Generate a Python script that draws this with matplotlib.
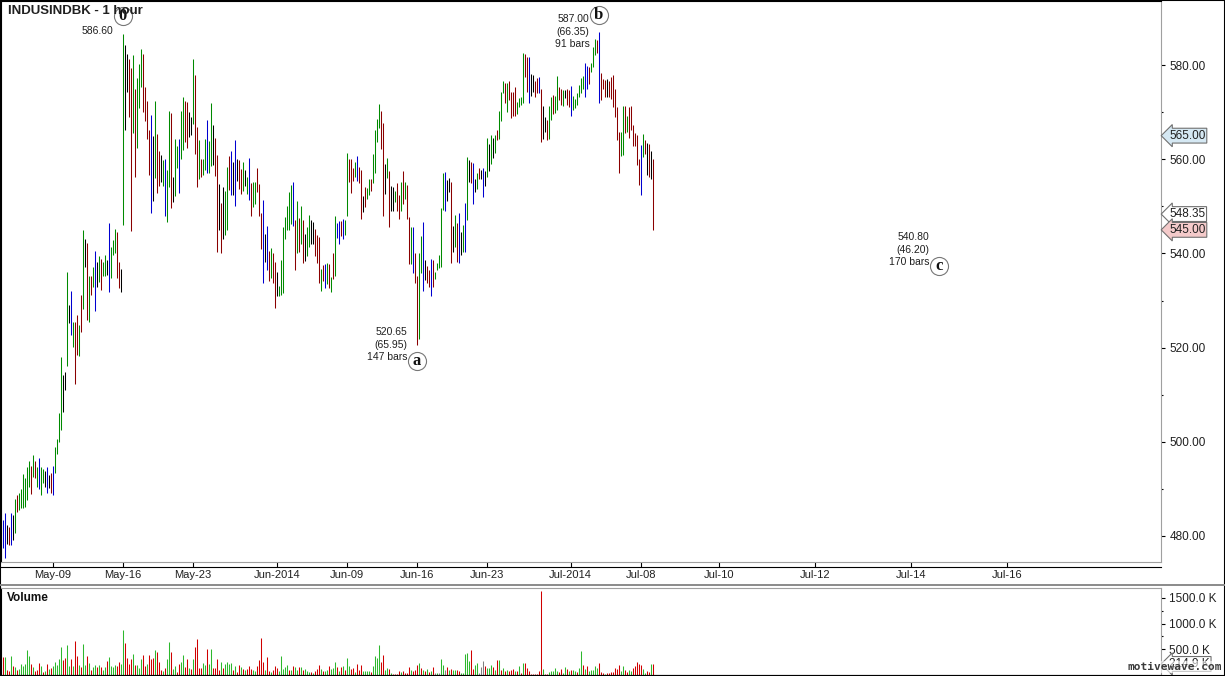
import matplotlib
matplotlib.use('Agg')
import matplotlib.pyplot as plt
import matplotlib.transforms as mtransforms
from matplotlib.lines import Line2D
from matplotlib.patches import Rectangle
import numpy as np

plt.rcParams['font.family'] = ['Liberation Sans', 'DejaVu Sans']

# --- hourly bars, INDUSINDBK ---
highs = [
    483.4, 484.8, 482.3, 482.0, 484.8, 484.5, 487.9, 488.7, 489.1, 489.9,
    493.2, 492.4, 494.7, 495.9, 494.9, 497.2, 495.9, 494.7, 496.6, 494.6,
    494.2, 493.7, 494.6, 493.0, 493.3, 494.9, 499.0, 500.7, 506.2, 518.1,
    514.2, 514.9, 536.1, 529.0, 532.0, 525.5, 525.5, 526.9, 524.7, 531.2,
    545.0, 543.0, 542.3, 535.2, 535.2, 537.2, 540.5, 538.2, 539.4, 538.9,
    538.2, 539.7, 538.6, 546.5, 541.4, 542.8, 545.1, 544.6, 538.2, 536.6,
    586.6, 584.2, 582.3, 581.2, 579.3, 582.1, 575.0, 577.2, 580.2, 583.3,
    582.3, 575.4, 572.4, 566.2, 569.4, 564.9, 572.4, 565.3, 561.7, 560.9,
    559.8, 560.0, 557.7, 570.2, 569.9, 556.3, 564.2, 562.7, 564.3, 570.3,
    573.1, 572.4, 572.2, 570.0, 569.0, 581.2, 577.9, 566.9, 564.0, 560.0,
    560.0, 564.3, 568.3, 563.9, 571.9, 567.3, 564.4, 560.9, 554.7, 550.8,
    554.2, 553.3, 558.4, 560.7,
    561.7, 559.3, 564.1, 560.0, 559.8, 557.9, 559.3, 557.7, 556.3, 560.3,
    554.9, 555.2, 555.2, 558.1, 554.7, 548.5, 551.3, 544.1, 545.8, 540.5,
    541.1, 540.0, 538.1, 536.0, 533.1, 538.5, 545.7, 547.8, 550.1, 553.1,
    554.5, 555.2, 547.1, 551.2, 547.6, 550.1, 547.1, 544.1, 545.7, 548.2,
    547.1, 546.7, 545.2, 543.9, 543.4, 536.7, 537.5, 537.8, 537.9, 537.7,
    534.9, 540.0, 548.0,
    546.4, 546.9, 546.9, 547.2, 547.1, 561.4, 560.0, 560.0, 558.1, 559.3,
    560.7, 558.4, 557.7, 552.2, 554.2, 553.8, 555.7, 555.7, 561.1, 566.2,
    568.5, 571.7, 570.2, 567.6, 559.0, 560.2, 557.4, 554.3, 554.2, 553.3,
    554.9, 552.4, 555.2, 557.4, 555.2, 554.5, 547.8, 545.5, 545.7, 540.0,
    535.2, 540.0, 543.6, 546.6, 538.7, 537.3, 536.5, 538.9, 538.6, 536.1,
    537.9, 539.7, 549.6, 557.1, 557.3, 555.6, 556.1, 555.2, 545.8, 548.2,
    546.5, 548.6, 544.6, 546.0, 550.8, 560.4, 559.8, 559.3, 559.1, 555.7,
    557.0, 558.1, 557.7, 558.2, 557.4, 564.4, 563.2, 565.1, 564.4, 565.1,
    566.2, 570.3, 574.3, 576.5, 576.2, 576.1, 576.5, 574.3, 574.3, 575.4,
    572.2, 572.9, 573.1, 582.5, 582.3, 581.6, 581.8, 578.1, 577.9, 576.7,
    577.2, 577.4, 574.8, 571.3, 568.9, 568.3, 571.2,
    573.1, 573.6, 573.4, 577.7, 575.3, 574.8, 574.7, 574.6, 575.0, 574.6,
    575.5, 573.4, 572.7, 574.0, 575.8, 577.2, 577.7, 580.5, 579.8, 579.6,
    580.4, 583.9, 585.5, 585.3, 587.0, 578.4, 577.0, 576.8, 577.0, 576.5,
    577.4, 577.9, 574.8, 571.0, 565.8, 565.8, 571.3, 571.3, 569.2, 571.0,
    571.3, 567.3, 565.5, 565.1, 560.0, 563.0, 565.4, 564.1, 563.4, 563.2,
    561.8, 560.0,
]
lows = [
    477.4, 475.4, 478.4, 478.1, 478.0, 479.1, 480.7, 485.0, 485.5, 485.9,
    486.0, 486.2, 487.6, 490.5, 488.9, 492.6, 492.4, 490.5, 489.9, 488.7,
    491.3, 490.3, 489.2, 490.1, 489.1, 488.7, 493.4, 497.5, 500.0, 502.5,
    506.4, 510.9, 516.0, 525.2, 522.7, 520.2, 512.3, 518.4, 518.3, 523.4,
    528.3, 537.2, 525.9, 525.5, 531.2, 532.9, 527.8, 532.9, 534.0, 532.2,
    535.1, 535.1, 535.4, 531.9, 534.7, 539.7, 540.0, 534.7, 532.6, 531.9,
    546.0, 566.1, 574.3, 569.0, 544.8, 565.6, 556.3, 562.3, 570.8, 575.4,
    570.1, 568.2, 564.2, 556.6, 548.5, 551.2, 556.1, 552.9, 554.4, 555.2,
    554.3, 548.0, 546.7, 554.2, 549.7, 551.0, 552.2, 558.2, 552.9, 560.0,
    562.0, 563.7, 562.3, 564.8, 565.1, 567.5, 561.2, 554.2, 555.7, 556.2,
    556.6, 557.7, 557.1, 557.1, 558.6, 558.8, 556.4, 540.4, 545.0, 540.0,
    543.1, 543.9, 545.0, 553.5,
    552.3, 552.4, 550.1, 555.4, 553.7, 552.6, 553.3, 554.4, 552.6, 551.3,
    547.9, 549.8, 550.5, 553.0, 547.9, 540.9, 533.8, 538.1, 536.5, 534.1,
    534.7, 533.8, 528.5, 531.0, 531.0, 531.2, 531.5, 543.1, 545.0, 545.0,
    546.2, 545.8, 536.5, 540.0, 540.2, 542.1, 538.0, 538.4, 539.5, 541.3,
    542.0, 542.1, 539.5, 538.0, 533.8, 532.1, 534.2, 532.7, 533.6, 532.6,
    531.7, 534.5, 535.2,
    543.2, 542.0, 543.7, 543.1, 543.9, 548.0, 555.2, 552.9, 555.4, 556.2,
    555.4, 555.0, 547.2, 548.7, 549.8, 551.5, 552.4, 553.3, 554.9, 557.1,
    563.7, 566.6, 562.1, 547.9, 552.6, 556.1, 545.7, 549.1, 549.1, 551.0,
    549.1, 547.4, 549.1, 550.5, 551.5, 547.4, 537.7, 537.7, 535.9, 533.8,
    520.65, 521.8, 535.9, 532.1, 534.4, 533.7, 532.9, 531.0, 532.8, 534.5,
    536.5, 537.0, 537.2, 549.2, 549.1, 551.2, 553.1, 538.0, 540.2, 541.3,
    538.2, 538.0, 539.7, 540.4, 540.2, 547.0, 555.2, 555.0, 550.4, 553.1,
    553.6, 555.7, 555.7, 551.9, 554.3, 556.3, 557.6, 559.0, 560.2, 561.4,
    564.1, 564.2, 568.2, 574.0, 571.9, 570.1, 572.6, 568.7, 569.2, 569.2,
    569.6, 571.0, 571.5, 572.0, 577.4, 574.3, 571.9, 573.4, 574.3, 573.3,
    574.1, 574.0, 563.7, 564.2, 565.8, 564.1, 564.2,
    568.3, 569.6, 569.9, 570.4, 572.6, 571.5, 571.3, 572.9, 571.5, 571.0,
    569.2, 570.4, 570.8, 571.5, 573.3, 574.0, 574.8, 573.3, 575.0, 576.0,
    578.6, 579.6, 582.1, 582.5, 572.0, 572.6, 575.0, 573.3, 573.1, 573.1,
    572.7, 571.0, 569.0, 564.1, 557.1, 560.7, 560.9, 565.5, 565.8, 564.4,
    566.1, 562.7, 562.7, 558.8, 554.5, 552.4, 560.5, 561.2, 556.6, 556.3,
    555.9, 545.0,
]
# g = green, r = red, b = blue, k = black
bar_codes = (
    "bbkrbkgrgg" "ggggrgrgbg" "gkbkrbgggg" "kkgkbgrrgr" "gkrgrgbkgr" "ggkbgggrrk"
    "gkkrrgrggg" "rrrrbkgrrk" "gbggrkggbg" "grrkkgrrgr" "ggbggkrrkr" "kggr"
    "bkbkrrgkgb" "rggrrrbkbr" "grrkgggggg" "gbrgrgrkgg" "kkrrrgrbgr" "grg"
    "bbrbggrrrg" "brrkrggrgg" "ggrrkgrkkg" "rrgrgrrgbr" "rggbkrrbrg"
    "ggggbkkrkg" "rbkgbgkrbk" "grkbkgkgkg" "rgggrgrrrr" "ggggrrbkkr" "rbrkkrg"
    "grggrrgkrr" "bggggggbbr" "gggrbrrrkr" "rrrrrggrgr" "rrrrrbgrkr" "kr"
)

# volume in thousands
volumes = [
    357, 357, 97, 78, 370, 175, 149, 97, 117, 214,
    175, 214, 487, 370, 214, 149, 84, 97, 240, 175,
    65, 84, 214, 117, 130, 175, 260, 195, 312, 552,
    292, 337, 584, 175, 312, 175, 662, 370, 195, 149,
    604, 195, 370, 240, 97, 162, 195, 162, 195, 162,
    97, 149, 273, 344, 175, 162, 195, 175, 260, 214,
    876, 630, 337, 214, 305, 409, 195, 195, 130, 312,
    389, 175, 214, 389, 312, 325, 487, 454, 260, 97,
    78, 130, 312, 643, 448, 110, 175, 65, 214, 253,
    389, 156, 312, 130, 110, 312, 552, 701, 136, 136,
    234, 195, 506, 214, 506, 136, 136, 312, 97, 253,
    136, 214, 253, 214, 234, 97, 175, 58, 195, 156,
    117, 97, 117, 175, 117, 97, 78, 175, 292, 720,
    253, 97, 350, 78, 58, 97, 175, 136, 78, 370,
    117, 156, 195, 97, 97, 175, 156, 97, 156, 156,
    97, 117, 78, 58, 58, 39, 78, 117, 195, 117,
    78, 78,
    97, 175, 117, 136, 253, 156, 78, 156, 175, 97,
    331, 175, 117, 136, 58, 214, 97, 195, 78, 78,
    78, 78, 58, 175, 370, 331, 584, 253, 389, 97,
    136, 117, 32, 19, 19, 19, 78, 58, 78, 39,
    39, 156, 97, 78, 97, 195, 234, 136, 97, 78,
    117, 58, 78, 156, 39, 39, 39, 312, 195, 97,
    156, 97, 117, 97, 97, 97, 78, 39, 39, 409,
    428, 273, 487, 117, 195, 234, 39, 156, 273, 175,
    136, 136, 195, 156, 97, 292, 292, 97, 136, 78,
    97, 78, 97, 117, 78, 78, 175, 39, 234, 234,
    136, 78, 19, 19, 19, 19, 78, 1630, 117, 19,
    19, 58, 78, 78, 136, 78, 58, 117, 39, 156,
    117, 78, 97, 97, 78, 58, 136, 467, 195, 117,
    175, 78, 97, 97, 175, 136, 234, 58, 39, 19,
    39, 39, 58, 58, 136, 117, 195, 78, 175, 97,
    58, 97, 78, 136, 175, 253, 214, 195, 117, 39,
    78, 58, 214, 214,
]
# g = up, r = down, x = unchanged
vol_codes = (
    "rgrrgrgrgg" "ggggrgrrrg" "rgrgrggggg" "rrggrgrrgr" "ggrgrggrgr" "ggrggggrrg"
    "grrrrgrggg" "rrgrrrgrrr" "grggrggrrg" "grrgrgrrrr" "ggrggrrrrg" "rggggrgrrg"
    "rgrrrggrrr" "rgrrgrrrgg" "gggrgrggrg" "rgggrgrrrg" "rg"
    "grgggrgrgr" "ggrrgrrrgg" "ggrggggrrg" "grgrrrrgrr" "rrgrrrgrgr" "grgrxgxggx"
    "rgrggrrggg" "ggrrggxxxr" "gggrgrgrgr" "grrrgrgrgr" "rrrrrrrrgr" "rgggggrrgg"
    "rgrggrggrg" "rgggggrrrg" "rrrrrrrggr" "rggrrrrrgg" "rrgr"
)

date_ticks = ['May-09', 'May-16', 'May-23', 'Jun-2014', 'Jun-09', 'Jun-16', 'Jun-23',
              'Jul-2014', 'Jul-08', 'Jul-10', 'Jul-12', 'Jul-14', 'Jul-16']
tick_bars = [25, 60, 95, 137, 172, 207, 242, 284, 319, 358, 406, 454, 502]

price_ticks = [480, 500, 520, 540, 560, 580]
vol_ticks = [500, 1000, 1500]

# projected wave c
c_bars_after_b = 170
c_price = 540.80
tags = [(565.00, '#d5e8f3'), (548.35, 'white'), (545.00, '#f4caca')]
last_volume = 214.9

price_col = {'g': '#008a00', 'r': '#8a0000', 'b': '#0000d0', 'k': '#000000'}
vol_col = {'g': '#2db82d', 'r': '#d00000', 'x': '#808080'}

W, H = 1225, 676
fig = plt.figure(figsize=(W / 100, H / 100), dpi=100)


def fy(py):
    return 1 - py / H


x = np.arange(len(highs))
hi = np.array(highs)
lo = np.array(lows)

# price panel
ax = fig.add_axes([1 / W, fy(562), 1160 / W, 561 / H])
ax.set_xlim(-0.85, 579.15)
ax.set_ylim(580 - (562 - 65) / 4.71, 580 + (65 - 1) / 4.71)
bars = ax.vlines(x, lo, hi, colors=[price_col[c] for c in bar_codes], linewidth=0.75)
bars.set_snap(True)

ax.set_xticks(tick_bars)
ax.set_xticklabels(date_ticks)
ax.tick_params(axis='x', direction='out', length=3.6, width=0.8, color='black',
               labelsize=8, pad=2.5, labelcolor='#202020')
ax.yaxis.tick_right()
ax.set_yticks(price_ticks)
ax.set_yticklabels(['%.2f' % v for v in price_ticks])
ax.set_yticks([490, 510, 530, 550, 570], minor=True)
ax.tick_params(axis='y', which='major', direction='out', length=3, width=0.8,
               labelsize=8.5, pad=3, labelcolor='#202020')
ax.tick_params(axis='y', which='minor', direction='out', length=1.5, width=0.8)
for side in ['right', 'bottom']:
    ax.spines[side].set_color('#a0a0a0')
for side in ['left', 'top']:
    ax.spines[side].set_color('black')

# wave labels: 0 = top, a = low after it, b = high after a, c = projection
i0 = int(np.argmax(hi[:100]))
ia = i0 + int(np.argmin(lo[i0:]))
ib = ia + int(np.argmax(hi[ia:]))
ic = ib + c_bars_after_b
waves = [
    (i0, hi[i0], '0', ['%.2f' % hi[i0]], 18),
    (ia, lo[ia], 'a', ['%.2f' % lo[ia], '(%.2f)' % (hi[i0] - lo[ia]), '%d bars' % (ia - i0)], -16),
    (ib, hi[ib], 'b', ['%.2f' % hi[ib], '(%.2f)' % (hi[ib] - lo[ia]), '%d bars' % (ib - ia)], 17),
    (ic, c_price, 'c', ['%.2f' % c_price, '(%.2f)' % (hi[ib] - c_price), '%d bars' % c_bars_after_b], -16),
]
for i, p, letter, lines, dy in waves:
    tr = mtransforms.offset_copy(ax.transData, fig=fig, x=0, y=dy, units='dots')
    ax.plot([i], [p], marker='o', ms=13, mfc='none', mec='#777777', mew=0.8,
            transform=tr, clip_on=False)
    ax.text(i, p, letter, transform=tr, ha='center', va='center', fontsize=12,
            fontweight='bold', family='Liberation Serif', color='#111111')
    if len(lines) == 1:
        offs = [3]
    else:
        offs = [13, 0, -12]
    for txt, oy in zip(lines, offs):
        trt = mtransforms.offset_copy(ax.transData, fig=fig, x=-9, y=oy, units='dots')
        ax.text(i, p, txt, transform=trt, ha='right', va='center', fontsize=7.5,
                color='#202020')

# value tags on the price scale
btr = mtransforms.blended_transform_factory(ax.transAxes, ax.transData)
for val, fc in tags:
    ax.text(1.0 + 8 / 1160, val, '%.2f' % val, transform=btr, ha='left', va='center',
            fontsize=8.5, color='#202020', zorder=5,
            bbox=dict(boxstyle='larrow,pad=0.12', fc=fc, ec='#707070', lw=0.8))

# volume panel
axv = fig.add_axes([1 / W, fy(675), 1160 / W, 87 / H])
axv.set_xlim(-0.85, 579.15)
axv.set_ylim(0, 87 * 19.46)
vbars = axv.vlines(x, 0, volumes, colors=[vol_col[c] for c in vol_codes], linewidth=0.75)
vbars.set_snap(True)
axv.set_xticks([])
axv.yaxis.tick_right()
axv.set_yticks(vol_ticks)
axv.set_yticklabels(['%.1f K' % v for v in vol_ticks])
axv.set_yticks([250, 750, 1250], minor=True)
axv.tick_params(axis='y', which='major', direction='out', length=3, width=0.8,
                labelsize=8.5, pad=3, labelcolor='#202020')
axv.tick_params(axis='y', which='minor', direction='out', length=1.5, width=0.8)
for side in ['right', 'top']:
    axv.spines[side].set_color('#a0a0a0')
axv.spines['left'].set_color('black')
axv.spines['bottom'].set_color('black')
vtr = mtransforms.blended_transform_factory(axv.transAxes, axv.transData)
axv.text(1.0 + 8 / 1160, last_volume, '%.1f K' % last_volume, transform=vtr, ha='left',
         va='center', fontsize=8.5, color='#202020',
         bbox=dict(boxstyle='larrow,pad=0.12', fc='white', ec='#707070', lw=0.8))

# texts and frame
fig.text(8 / W, fy(11), 'INDUSINDBK - 1 hour', fontsize=9.5, fontweight='bold',
         va='center', color='#202020')
fig.text(7 / W, fy(598), 'Volume', fontsize=8.5, fontweight='bold', va='center', color='#101010')
fig.text(1222 / W, fy(667), 'motivewave.com', ha='right', va='center', fontsize=8,
         fontweight='bold', family='DejaVu Sans Mono', color='#3a3a3a', zorder=10,
         bbox=dict(fc='white', ec='none', pad=0.5, alpha=0.6))
fig.add_artist(Line2D([1 / W, 1161 / W], [fy(567), fy(567)], color='black', lw=0.8))
fig.add_artist(Line2D([0, 1], [fy(585), fy(585)], color='#8a8a8a', lw=1.4))
fig.add_artist(Rectangle((0, 0), 1, 1, transform=fig.transFigure, fill=False,
                         ec='black', lw=1.5))

fig.savefig('out.png', dpi=100)
